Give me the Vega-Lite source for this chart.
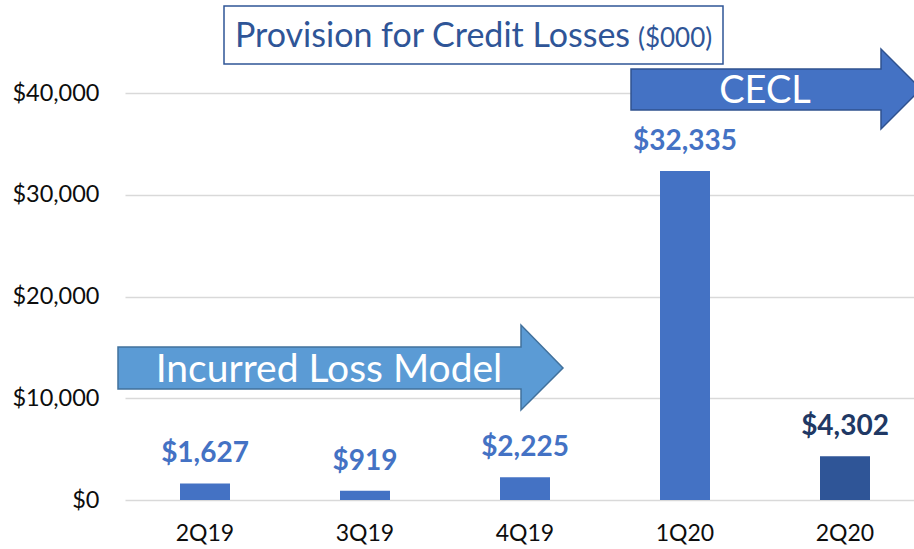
{
  "$schema": "https://vega.github.io/schema/vega-lite/v6.json",
  "width": 789,
  "height": 407,
  "autosize": "none",
  "padding": {"left": 125, "top": 93, "right": 0, "bottom": 49},
  "background": "white",
  "config": {"view": {"stroke": null}, "font": "Lato"},
  "datasets": {
    "provision": [
      {"quarter": "2Q19", "provision": 1627},
      {"quarter": "3Q19", "provision": 919},
      {"quarter": "4Q19", "provision": 2225},
      {"quarter": "1Q20", "provision": 32335},
      {"quarter": "2Q20", "provision": 4302}
    ],
    "incurred_arrow": [
      {"i": 0, "x": -0.54375, "y": 15037},
      {"i": 1, "x": 1.975, "y": 15037},
      {"i": 2, "x": 1.975, "y": 17199},
      {"i": 3, "x": 2.2375, "y": 12973},
      {"i": 4, "x": 1.975, "y": 8845},
      {"i": 5, "x": 1.975, "y": 10909},
      {"i": 6, "x": -0.54375, "y": 10909}
    ],
    "cecl_arrow": [
      {"i": 0, "x": 2.6625, "y": 42359},
      {"i": 1, "x": 4.225, "y": 42359},
      {"i": 2, "x": 4.225, "y": 44324},
      {"i": 3, "x": 4.475, "y": 40393},
      {"i": 4, "x": 4.225, "y": 36462},
      {"i": 5, "x": 4.225, "y": 38329},
      {"i": 6, "x": 2.6625, "y": 38329}
    ],
    "arrow_labels": [
      {"label": "Incurred Loss Model", "x": 0.775, "y": 11597, "size": 39},
      {"label": "CECL", "x": 3.5, "y": 39017, "size": 38}
    ],
    "title_box": [{"x": 0.11875, "x2": 3.2375, "y": 48550, "y2": 42850}],
    "title_main": [{"label": "Provision for Credit Losses", "x": 0.1875, "y": 44492}],
    "title_unit": [{"label": "($000)", "x": 2.70625, "y": 44492}]
  },
  "resolve": {"scale": {"x": "independent"}, "axis": {"x": "independent"}},
  "layer": [
    {
      "data": {"name": "provision"},
      "mark": {"type": "bar", "width": {"band": 0.3125}},
      "encoding": {
        "x": {
          "field": "quarter", "type": "nominal", "sort": null,
          "scale": {"range": [0, 800], "paddingInner": 0, "paddingOuter": 0},
          "axis": {"title": null, "domain": false, "ticks": false, "labelAngle": 0,
                   "labelFont": "Lato", "labelFontSize": 23, "labelColor": "#0D0D0D",
                   "labelBaseline": "alphabetic", "labelPadding": 40}
        },
        "y": {
          "field": "provision", "type": "quantitative",
          "scale": {"domain": [0, 40000], "nice": false},
          "axis": {"title": null, "domain": false, "ticks": false, "grid": true,
                   "gridColor": "#D9D9D9", "gridWidth": 1.5,
                   "values": [0, 10000, 20000, 30000, 40000], "format": "$,.0f",
                   "labelFont": "Lato", "labelFontSize": 23.5, "labelColor": "#0D0D0D",
                   "labelPadding": 26}
        },
        "color": {"condition": {"test": "datum.quarter === '2Q20'", "value": "#2F5597"}, "value": "#4472C4"}
      }
    },
    {
      "data": {"name": "provision"},
      "mark": {"type": "text", "baseline": "alphabetic", "dy": -21, "font": "Lato", "fontWeight": "bold", "fontSize": 28},
      "encoding": {
        "x": {"field": "quarter", "type": "nominal", "sort": null,
              "scale": {"range": [0, 800], "paddingInner": 0, "paddingOuter": 0}, "axis": null},
        "y": {"field": "provision", "type": "quantitative", "title": null},
        "text": {"field": "provision", "type": "quantitative", "format": "$,.0f"},
        "color": {"condition": {"test": "datum.quarter === '2Q20'", "value": "#203864"}, "value": "#4472C4"}
      }
    },
    {
      "data": {"name": "incurred_arrow"},
      "mark": {"type": "line", "interpolate": "linear-closed", "fill": "#5B9BD5", "stroke": "#41719C", "strokeWidth": 1.5},
      "encoding": {
        "x": {"field": "x", "type": "quantitative", "scale": {"domain": [-0.5, 4.5], "range": [0, 800], "nice": false, "zero": false}, "axis": null},
        "y": {"field": "y", "type": "quantitative", "title": null},
        "order": {"field": "i"}
      }
    },
    {
      "data": {"name": "cecl_arrow"},
      "mark": {"type": "line", "interpolate": "linear-closed", "fill": "#4472C4", "stroke": "#2F528F", "strokeWidth": 1.5},
      "encoding": {
        "x": {"field": "x", "type": "quantitative", "scale": {"domain": [-0.5, 4.5], "range": [0, 800], "nice": false, "zero": false}, "axis": null},
        "y": {"field": "y", "type": "quantitative", "title": null},
        "order": {"field": "i"}
      }
    },
    {
      "data": {"name": "arrow_labels"},
      "mark": {"type": "text", "baseline": "alphabetic", "align": "center", "font": "Lato", "color": "white"},
      "encoding": {
        "x": {"field": "x", "type": "quantitative", "scale": {"domain": [-0.5, 4.5], "range": [0, 800], "nice": false, "zero": false}, "axis": null},
        "y": {"field": "y", "type": "quantitative", "title": null},
        "text": {"field": "label"},
        "size": {"field": "size", "type": "quantitative", "scale": null, "legend": null}
      }
    },
    {
      "data": {"name": "title_box"},
      "mark": {"type": "rect", "fill": "white", "stroke": "#2F5597", "strokeWidth": 1.5},
      "encoding": {
        "x": {"field": "x", "type": "quantitative", "scale": {"domain": [-0.5, 4.5], "range": [0, 800], "nice": false, "zero": false}, "axis": null},
        "x2": {"field": "x2"},
        "y": {"field": "y", "type": "quantitative", "title": null},
        "y2": {"field": "y2"}
      }
    },
    {
      "data": {"name": "title_main"},
      "mark": {"type": "text", "baseline": "alphabetic", "align": "left", "font": "Lato", "fontSize": 34, "color": "#2F5597"},
      "encoding": {
        "x": {"field": "x", "type": "quantitative", "scale": {"domain": [-0.5, 4.5], "range": [0, 800], "nice": false, "zero": false}, "axis": null},
        "y": {"field": "y", "type": "quantitative", "title": null},
        "text": {"field": "label"}
      }
    },
    {
      "data": {"name": "title_unit"},
      "mark": {"type": "text", "baseline": "alphabetic", "align": "left", "font": "Lato", "fontSize": 26, "color": "#2F5597"},
      "encoding": {
        "x": {"field": "x", "type": "quantitative", "scale": {"domain": [-0.5, 4.5], "range": [0, 800], "nice": false, "zero": false}, "axis": null},
        "y": {"field": "y", "type": "quantitative", "title": null},
        "text": {"field": "label"}
      }
    }
  ]
}
